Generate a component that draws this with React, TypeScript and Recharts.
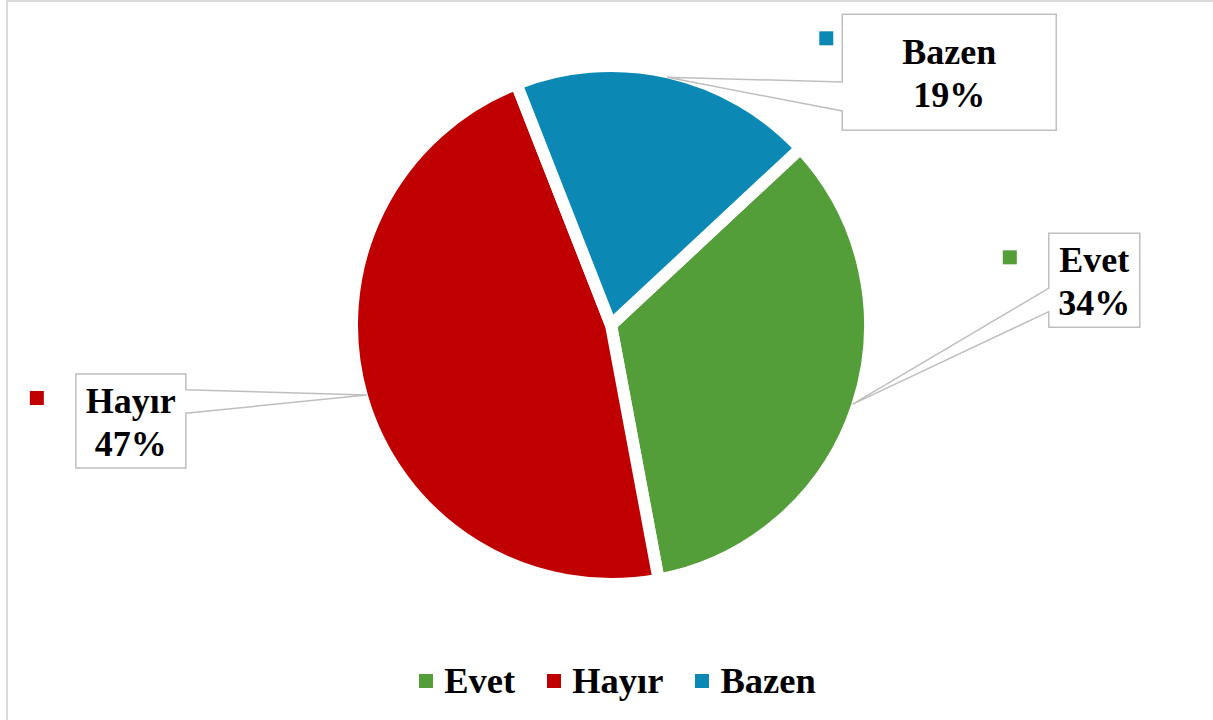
import React from "react";
import { PieChart, Pie, Cell, Legend } from "recharts";

const categories = ["Evet", "Hayır", "Bazen"];
const values = [34, 47, 19];
const colors = ["#549E39", "#C00000", "#0B89B4"];

const FONT = '"Liberation Serif", "Times New Roman", serif';
const RAD = Math.PI / 180;

// callout boxes, relative to the leader tip on the pie edge
const callouts: Record<string, { dx: number; dy: number; w: number; h: number; keyDx: number }> = {
  Evet:  { dx: 242,  dy: -124, w: 91,  h: 94,  keyDx: -46 },
  "Hayır": { dx: -236, dy: 26,   w: 110, h: 94,  keyDx: -46 },
  Bazen: { dx: 282,  dy: -5,   w: 214, h: 116, keyDx: -23 },
};

const data = categories.map((name, i) => ({ name, value: values[i], color: colors[i] }));

function calloutPath(x: number, y: number, w: number, h: number, tx: number, ty: number) {
  const cxb = x + w / 2, cyb = y + h / 2;
  const dx = tx - cxb, dy = ty - cyb;
  if (Math.abs(dx) * h >= Math.abs(dy) * w) {
    const a = y + h * (dy > 0 ? 7 / 12 : 2 / 12);
    const b = y + h * (dy > 0 ? 10 / 12 : 5 / 12);
    if (dx < 0) {
      return `M${x},${y} L${x + w},${y} L${x + w},${y + h} L${x},${y + h} L${x},${b} L${tx},${ty} L${x},${a} Z`;
    }
    return `M${x},${y} L${x + w},${y} L${x + w},${a} L${tx},${ty} L${x + w},${b} L${x + w},${y + h} L${x},${y + h} Z`;
  }
  const a = x + w * (dx > 0 ? 7 / 12 : 2 / 12);
  const b = x + w * (dx > 0 ? 10 / 12 : 5 / 12);
  if (dy < 0) {
    return `M${x},${y} L${a},${y} L${tx},${ty} L${b},${y} L${x + w},${y} L${x + w},${y + h} L${x},${y + h} Z`;
  }
  return `M${x},${y} L${x + w},${y} L${x + w},${y + h} L${b},${y + h} L${tx},${ty} L${a},${y + h} L${x},${y + h} Z`;
}

function renderLabel(props: any) {
  const { cx, cy, midAngle, outerRadius, name, percent, index } = props;
  const c = callouts[name];
  if (!c) return null;
  const r = outerRadius - 5;
  const tx = cx + r * Math.cos(-midAngle * RAD);
  const ty = cy + r * Math.sin(-midAngle * RAD);
  const bcx = tx + c.dx, bcy = ty + c.dy;
  const x = bcx - c.w / 2, y = bcy - c.h / 2;
  return (
    <g key={`lbl-${index}`}>
      <path d={calloutPath(x, y, c.w, c.h, tx, ty)} fill="#fff" stroke="#BFBFBF" strokeWidth={1.5} />
      <rect x={x + c.keyDx} y={y + 17} width={14} height={14} fill={colors[index]} />
      <text x={bcx} y={bcy - 8} textAnchor="middle" fontFamily={FONT} fontWeight="bold" fontSize={36} fill="#000">
        {name}
      </text>
      <text x={bcx} y={bcy + 35} textAnchor="middle" fontFamily={FONT} fontWeight="bold" fontSize={36} fill="#000">
        {`${Math.round(percent * 100)}%`}
      </text>
    </g>
  );
}

function LegendContent() {
  return (
    <div style={{ display: "flex", justifyContent: "center", alignItems: "center", fontFamily: FONT, fontWeight: "bold", fontSize: 36.5, color: "#000" }}>
      {data.map((d, i) => (
        <div key={d.name} style={{ display: "flex", alignItems: "center", marginRight: i < data.length - 1 ? 32 : 0 }}>
          <span style={{ width: 14, height: 14, background: d.color, display: "inline-block", marginRight: 11 }} />
          <span style={{ lineHeight: "40px" }}>{d.name}</span>
        </div>
      ))}
    </div>
  );
}

export default function App() {
  return (
    <div style={{ position: "absolute", left: 0, top: 0, width: 1213, height: 720, background: "#fff", overflow: "hidden" }}>
      <div style={{ position: "absolute", left: 6, top: 0, width: 1230, height: 740, borderLeft: "2px solid #D9D9D9", borderTop: "2px solid #D9D9D9", boxSizing: "border-box" }} />
      <PieChart width={1213} height={720} style={{ position: "absolute", left: 0, top: 0 }}>
        <Pie
          data={data}
          dataKey="value"
          nameKey="name"
          cx={606}
          cy={320}
          outerRadius={259}
          startAngle={43}
          endAngle={-317}
          stroke="#fff"
          strokeWidth={12}
          label={renderLabel}
          labelLine={false}
          isAnimationActive={false}
        >
          {data.map((d) => (
            <Cell key={d.name} fill={d.color} />
          ))}
        </Pie>
        <Legend content={<LegendContent />} wrapperStyle={{ position: "absolute", top: 661, left: 11, width: 1213 }} />
      </PieChart>
    </div>
  );
}
